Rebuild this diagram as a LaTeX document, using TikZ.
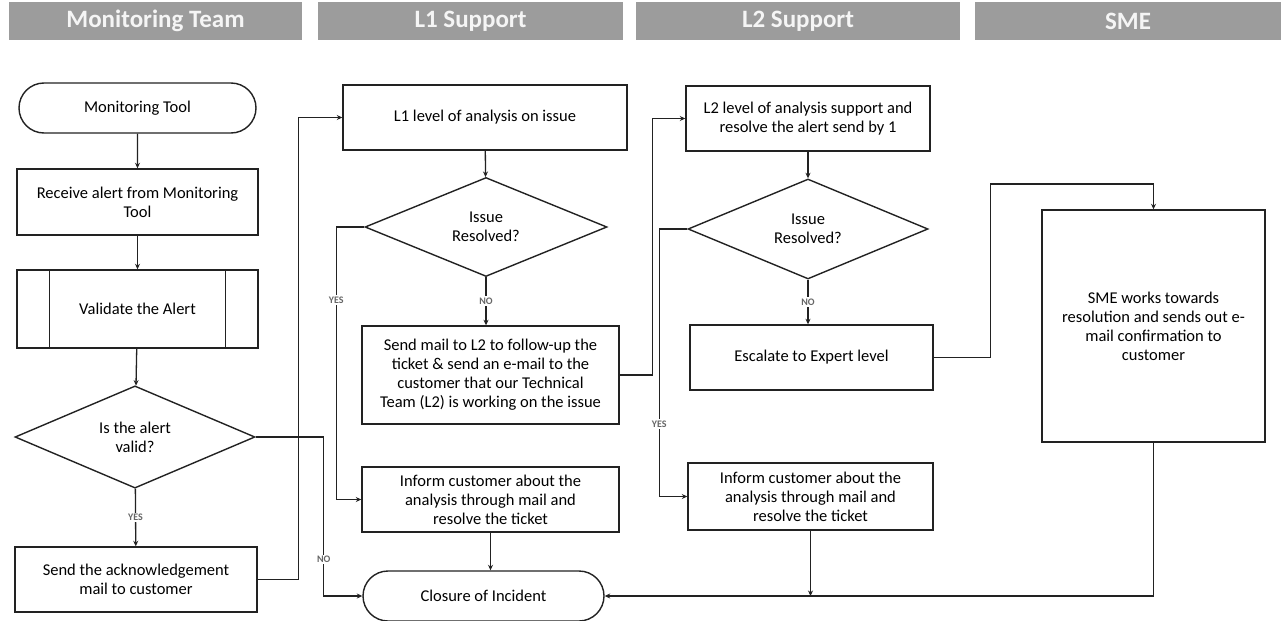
\documentclass[tikz,border=0pt]{standalone}
\usepackage{fontspec}
\setmainfont{Carlito}
\usetikzlibrary{shapes.geometric, shapes.misc, arrows.meta, positioning}
\definecolor{lanegray}{HTML}{9C9C9C}
\definecolor{inkgray}{HTML}{222222}

\tikzset{
	lane/.style={fill=lanegray, text=white!96!black, font=\fontsize{25}{28}\selectfont\bfseries, minimum height=38pt, inner sep=0pt},
	proc/.style={draw=inkgray, line width=1.4pt, align=center, font=\fontsize{16.5}{19}\selectfont, inner sep=2pt},
	term/.style={proc, rounded rectangle},
	decide/.style={proc, diamond, inner sep=0pt},
	flow/.style={draw=inkgray, line width=1.3pt, -{Stealth[length=5.5pt,width=5pt]}},
	lbl/.style={fill=white, text=black!60, font=\fontsize{10}{11}\selectfont\bfseries, inner sep=1.5pt},
}

\begin{document}
\begin{tikzpicture}[x=1pt, y=-1pt]
	\useasboundingbox (0,0) rectangle (1283,621);
	% swim lane headers
	\node[lane, minimum width=293pt] (hmon) at (155.5,21) {Monitoring Team};
	\node[lane, minimum width=305pt] (hlone) at (470.5,21) {L1 Support};
	\node[lane, minimum width=324pt] (hltwo) at (798,21) {L2 Support};
	\node[lane, minimum width=306pt] (hsme) at (1128,21) {SME};

	% monitoring team
	\node[term, minimum width=241pt, minimum height=50pt] (tool) at (137.5,108) {Monitoring Tool};
	\node[proc, minimum width=241pt, minimum height=66pt] (recv) at (137.5,202) {Receive alert from Monitoring\\Tool};
	\node[proc, minimum width=241pt, minimum height=78pt] (valid) at (137.5,309) {Validate the Alert};
	\draw[inkgray, line width=1.4pt] ([xshift=33pt]valid.north west) -- ([xshift=33pt]valid.south west);
	\draw[inkgray, line width=1.4pt] ([xshift=-33pt]valid.north east) -- ([xshift=-33pt]valid.south east);
	\node[decide, minimum width=240pt, minimum height=98pt] (isvalid) at (135,437) {Is the alert\\valid?};
	\node[proc, minimum width=242pt, minimum height=65pt] (ack) at (136,579.5) {Send the acknowledgement\\mail to customer};

	% L1 support
	\node[proc, minimum width=284pt, minimum height=65pt] (l1) at (485,117.5) {L1 level of analysis on issue};
	\node[decide, minimum width=242pt, minimum height=99pt] (l1q) at (486,227) {Issue\\Resolved?};
	\node[proc, minimum width=257pt, minimum height=98pt] (l1mail) at (490.5,375) {Send mail to L2 to follow-up the\\ticket \& send an e-mail to the\\customer that our Technical\\Team (L2) is working on the issue};
	\node[proc, minimum width=257pt, minimum height=65pt] (l1inf) at (490.5,499.5) {Inform customer about the\\analysis through mail and\\resolve the ticket};
	\node[term, minimum width=245pt, minimum height=50pt] (close) at (483.5,596) {Closure of Incident};

	% L2 support
	\node[proc, minimum width=244pt, minimum height=65pt] (l2) at (808,118.5) {L2 level of analysis support and\\resolve the alert send by 1};
	\node[decide, minimum width=240pt, minimum height=100pt] (l2q) at (808,229) {Issue\\Resolved?};
	\node[proc, minimum width=243pt, minimum height=65pt] (esc) at (811.5,357.5) {Escalate to Expert level};
	\node[proc, minimum width=245pt, minimum height=67pt] (l2inf) at (810.5,496.5) {Inform customer about the\\analysis through mail and\\resolve the ticket};

	% SME
	\node[proc, minimum width=223pt, minimum height=232pt] (sme) at (1153.5,326) {SME works towards\\resolution and sends out e-\\mail confirmation to\\customer};
	\coordinate (smein) at (1153.5,184);

	% connectors
	\draw[flow] (tool) -- (recv);
	\draw[flow] (recv) -- (valid);
	\draw[flow] (valid) -- (isvalid);
	\draw[flow] (isvalid) -- node[lbl] {YES} (ack);
	\draw[flow] (ack.east) -- ++(41,0) |- (l1.west);
	\draw[flow] (isvalid.east) -- ++(68,0) |- node[lbl, pos=0.385] {NO} (close.west);

	\draw[flow] (l1) -- (l1q);
	\draw[flow] (l1q.south) -- node[lbl] {NO} (l1q.south |- l1mail.north);
	\draw[flow] (l1q.west) -- ++(-28,0) |- node[lbl, pos=0.134] {YES} (l1inf.west);
	\draw[flow] (l1inf.south) -- (l1inf.south |- close.north);
	\draw[flow] (l1mail.east) -- ++(33,0) |- (l2.west);

	\draw[flow] (l2) -- (l2q);
	\draw[flow] (l2q.south) -- node[lbl] {NO} (l2q.south |- esc.north);
	\draw[flow] (l2q.west) -- ++(-28,0) |- node[lbl, pos=0.365] {YES} (l2inf.west);
	\draw[flow] (esc.east) -- ++(57,0) |- (smein) -- (sme.north);
	\draw[flow] (sme.south) |- (close.east);
	\draw[flow] (l2inf.south) -- (l2inf.south |- close.east);
\end{tikzpicture}
\end{document}
